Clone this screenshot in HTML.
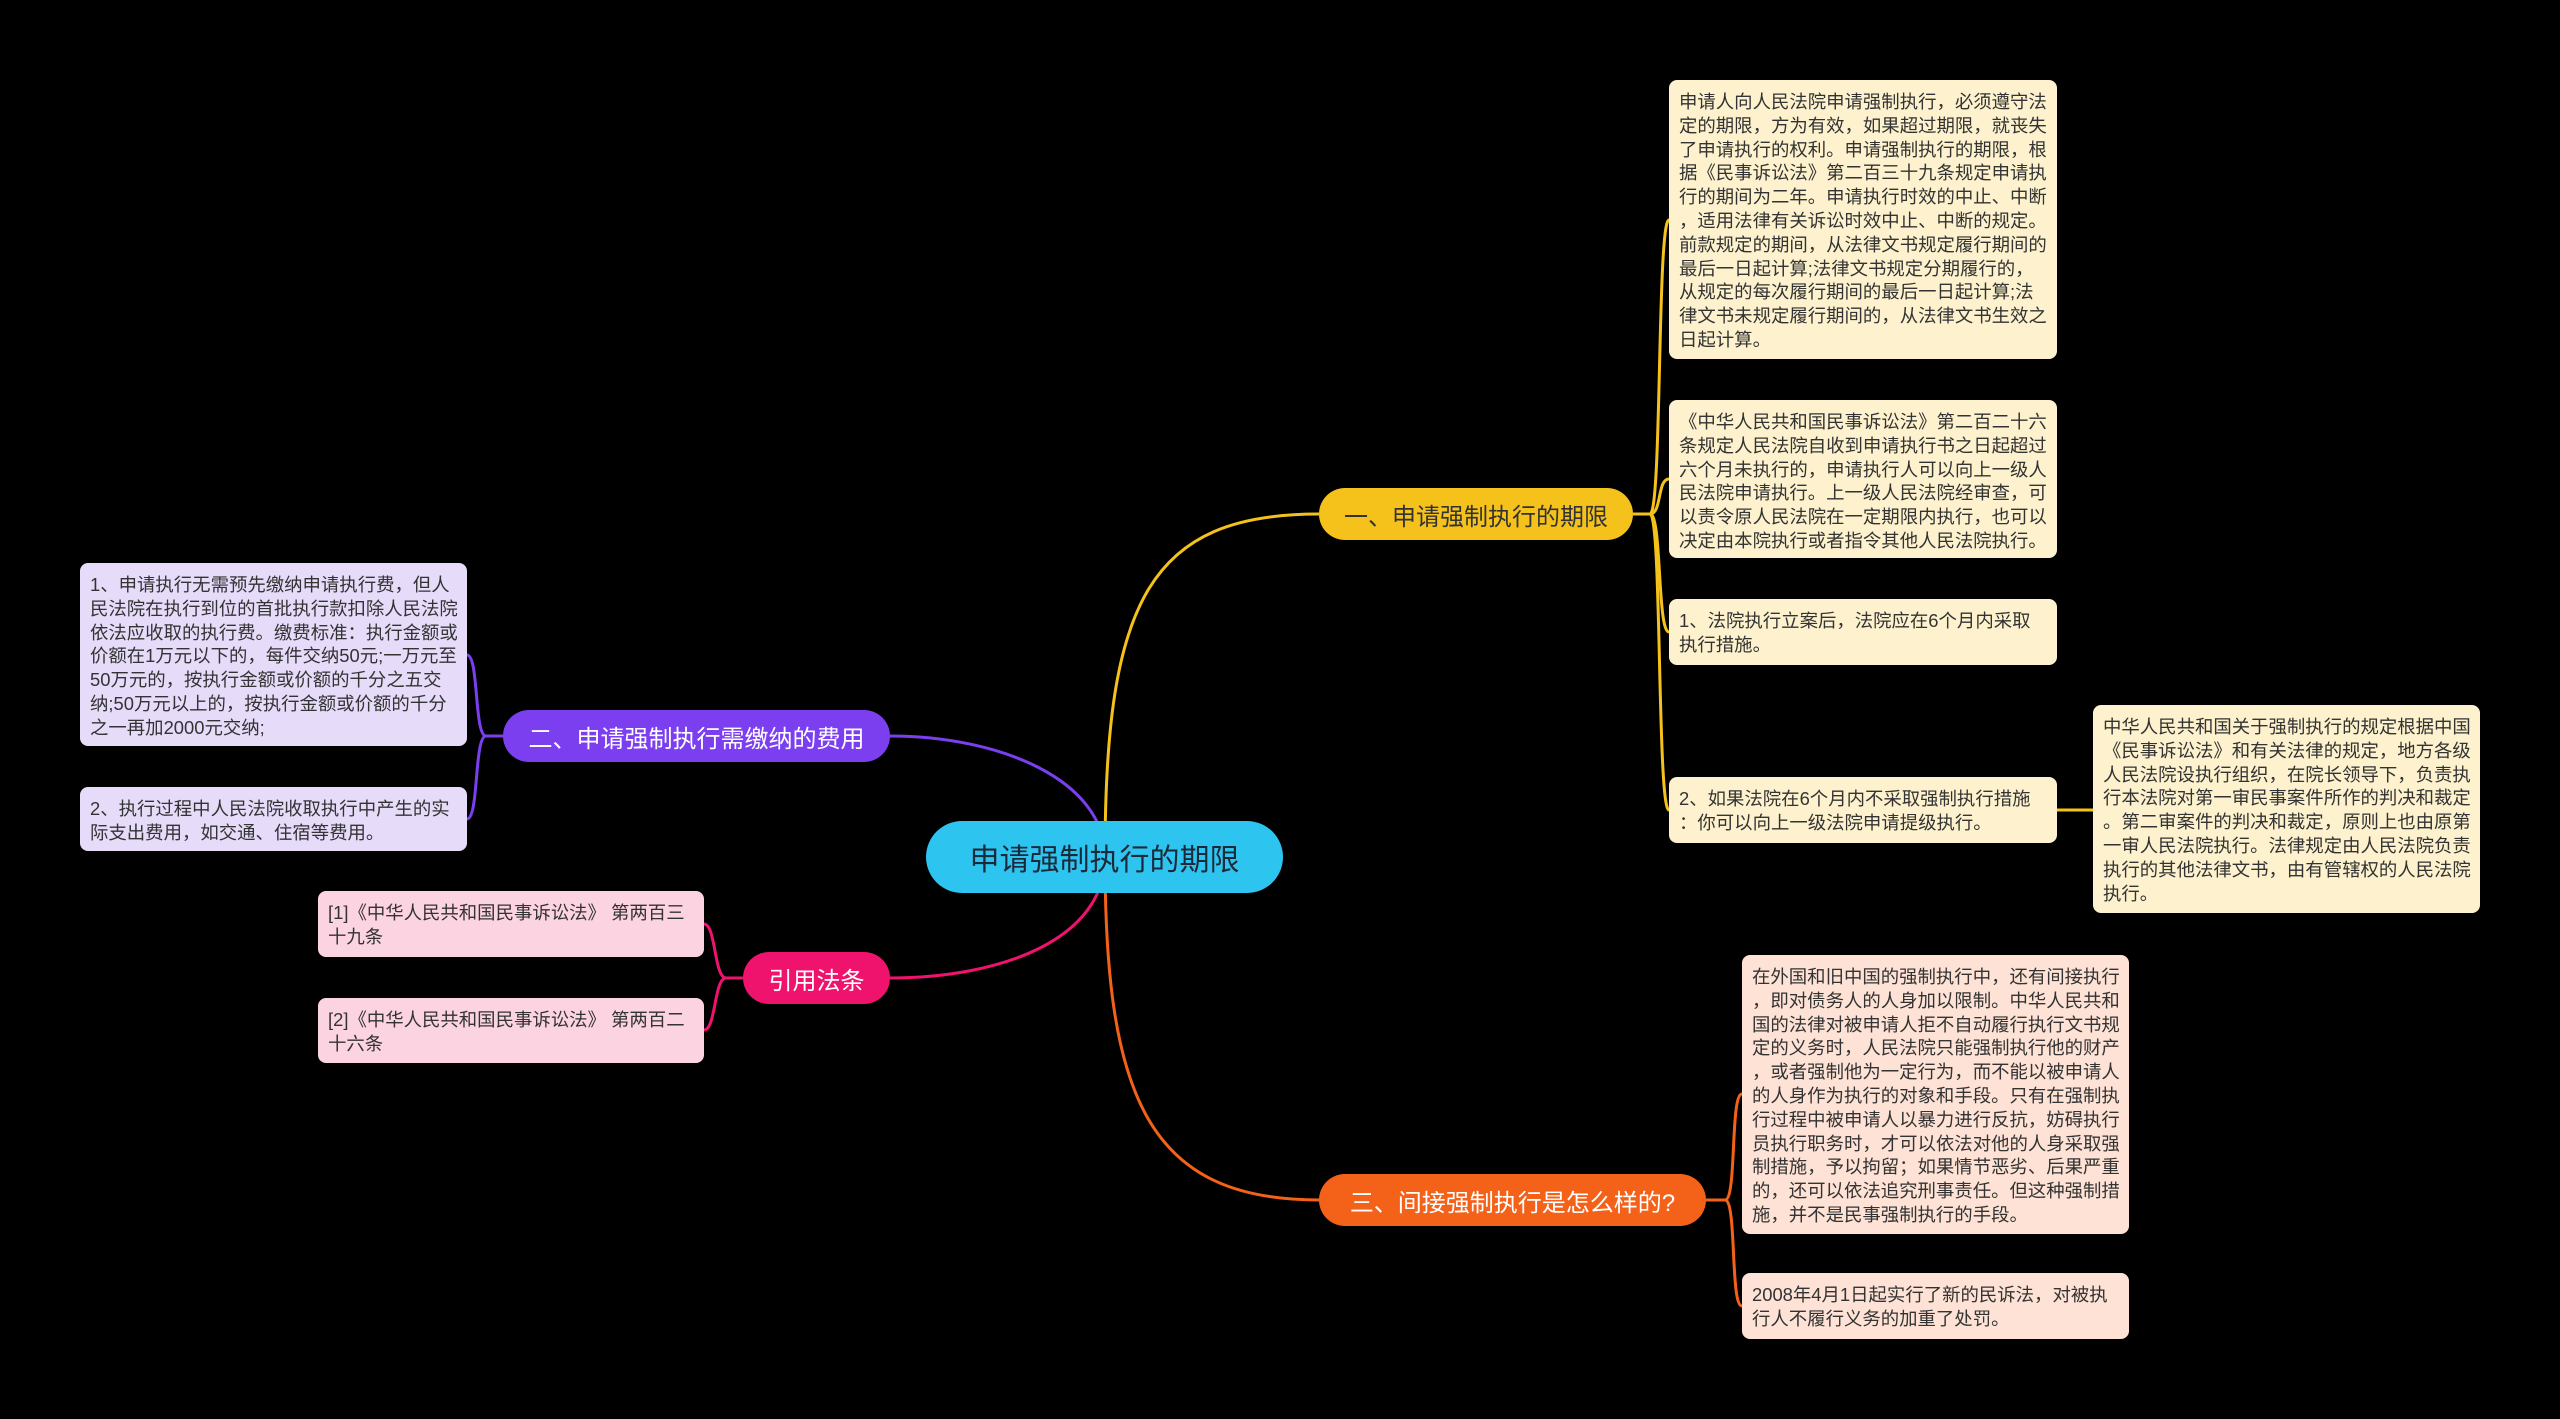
<!DOCTYPE html>
<html><head><meta charset="utf-8"><style>
body{margin:0;width:2560px;height:1419px;background:#000;overflow:hidden;position:relative;font-family:"Liberation Sans","Noto Sans CJK SC",sans-serif}
.n{position:absolute;box-sizing:border-box;border-radius:8px;font-size:18.4px;line-height:23.8px;color:#333;padding:10px 9px 9px 10px;white-space:nowrap}
.y{background:#fdf2cd}.p{background:#e7dbfa}.k{background:#fcd3e1}.o{background:#fde2d5}
.b{position:absolute;box-sizing:border-box;border-radius:26px;font-size:24px;display:flex;align-items:center;justify-content:center;white-space:nowrap}
svg{position:absolute;left:0;top:0}
</style></head><body>
<svg width="2560" height="1419" fill="none" stroke-width="3">
<path d="M1105 857 C1105 600 1150 514 1319 514" stroke="#f5c21b"/>
<path d="M1105 857 C1105 1100 1150 1200 1319 1200" stroke="#f4621a"/>
<path d="M1105 857 C1105 780 1000 736 890 736" stroke="#7b3ff0"/>
<path d="M1105 857 C1105 940 1000 978 890 978" stroke="#f0136e"/>
<g stroke="#f5c21b">
<path d="M1633 514 L1650 514 C1662 514 1657 220 1669 220"/>
<path d="M1633 514 L1650 514 C1662 514 1657 479 1669 479"/>
<path d="M1633 514 L1650 514 C1662 514 1657 632 1669 632"/>
<path d="M1633 514 L1650 514 C1662 514 1657 810 1669 810"/>
<path d="M2057 810 L2093 810"/>
</g>
<g stroke="#7b3ff0">
<path d="M503 736 L486 736 C474 736 479 655 467 655"/>
<path d="M503 736 L486 736 C474 736 479 819 467 819"/>
</g>
<g stroke="#f0136e">
<path d="M743 978 L726 978 C714 978 716 924 704 924"/>
<path d="M743 978 L726 978 C714 978 716 1030 704 1030"/>
</g>
<g stroke="#f4621a">
<path d="M1706 1200 L1725 1200 C1737 1200 1730 1094 1742 1094"/>
<path d="M1706 1200 L1725 1200 C1737 1200 1730 1306 1742 1306"/>
</g>
</svg>
<div class="b" style="left:926px;top:821px;width:357px;height:72px;border-radius:36px;background:#2ec4f0;color:#1b2a3a;font-size:30px">申请强制执行的期限</div>
<div class="b" style="left:1319px;top:488px;width:314px;height:52px;background:#f5c21b;color:#333">一、申请强制执行的期限</div>
<div class="b" style="left:503px;top:710px;width:387px;height:52px;background:#7b3ff0;color:#fff">二、申请强制执行需缴纳的费用</div>
<div class="b" style="left:743px;top:952px;width:147px;height:52px;background:#f0136e;color:#fff">引用法条</div>
<div class="b" style="left:1319px;top:1174px;width:387px;height:52px;background:#f4621a;color:#fff">三、间接强制执行是怎么样的?</div>

<div class="n y" style="left:1669px;top:80px;width:388px;height:279px">申请人向人民法院申请强制执行，必须遵守法<br>定的期限，方为有效，如果超过期限，就丧失<br>了申请执行的权利。申请强制执行的期限，根<br>据《民事诉讼法》第二百三十九条规定申请执<br>行的期间为二年。申请执行时效的中止、中断<br>，适用法律有关诉讼时效中止、中断的规定。<br>前款规定的期间，从法律文书规定履行期间的<br>最后一日起计算;法律文书规定分期履行的，<br>从规定的每次履行期间的最后一日起计算;法<br>律文书未规定履行期间的，从法律文书生效之<br>日起计算。</div>
<div class="n y" style="left:1669px;top:400px;width:388px;height:158px">《中华人民共和国民事诉讼法》第二百二十六<br>条规定人民法院自收到申请执行书之日起超过<br>六个月未执行的，申请执行人可以向上一级人<br>民法院申请执行。上一级人民法院经审查，可<br>以责令原人民法院在一定期限内执行，也可以<br>决定由本院执行或者指令其他人民法院执行。</div>
<div class="n y" style="left:1669px;top:599px;width:388px;height:66px">1、法院执行立案后，法院应在6个月内采取<br>执行措施。</div>
<div class="n y" style="left:1669px;top:777px;width:388px;height:66px">2、如果法院在6个月内不采取强制执行措施<br>：你可以向上一级法院申请提级执行。</div>
<div class="n y" style="left:2093px;top:705px;width:387px;height:208px">中华人民共和国关于强制执行的规定根据中国<br>《民事诉讼法》和有关法律的规定，地方各级<br>人民法院设执行组织，在院长领导下，负责执<br>行本法院对第一审民事案件所作的判决和裁定<br>。第二审案件的判决和裁定，原则上也由原第<br>一审人民法院执行。法律规定由人民法院负责<br>执行的其他法律文书，由有管辖权的人民法院<br>执行。</div>
<div class="n p" style="left:80px;top:563px;width:387px;height:183px">1、申请执行无需预先缴纳申请执行费，但人<br>民法院在执行到位的首批执行款扣除人民法院<br>依法应收取的执行费。缴费标准：执行金额或<br>价额在1万元以下的，每件交纳50元;一万元至<br>50万元的，按执行金额或价额的千分之五交<br>纳;50万元以上的，按执行金额或价额的千分<br>之一再加2000元交纳;</div>
<div class="n p" style="left:80px;top:787px;width:387px;height:64px">2、执行过程中人民法院收取执行中产生的实<br>际支出费用，如交通、住宿等费用。</div>
<div class="n k" style="left:318px;top:891px;width:386px;height:66px">[1]《中华人民共和国民事诉讼法》 第两百三<br>十九条</div>
<div class="n k" style="left:318px;top:998px;width:386px;height:65px">[2]《中华人民共和国民事诉讼法》 第两百二<br>十六条</div>
<div class="n o" style="left:1742px;top:955px;width:387px;height:279px">在外国和旧中国的强制执行中，还有间接执行<br>，即对债务人的人身加以限制。中华人民共和<br>国的法律对被申请人拒不自动履行执行文书规<br>定的义务时，人民法院只能强制执行他的财产<br>，或者强制他为一定行为，而不能以被申请人<br>的人身作为执行的对象和手段。只有在强制执<br>行过程中被申请人以暴力进行反抗，妨碍执行<br>员执行职务时，才可以依法对他的人身采取强<br>制措施，予以拘留；如果情节恶劣、后果严重<br>的，还可以依法追究刑事责任。但这种强制措<br>施，并不是民事强制执行的手段。</div>
<div class="n o" style="left:1742px;top:1273px;width:387px;height:66px">2008年4月1日起实行了新的民诉法，对被执<br>行人不履行义务的加重了处罚。</div>
</body></html>
